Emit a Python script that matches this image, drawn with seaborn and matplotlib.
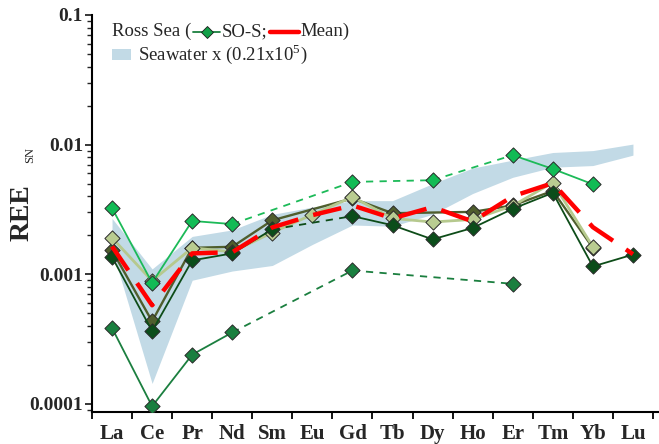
import numpy as np
import matplotlib
matplotlib.use("Agg")
import matplotlib.pyplot as plt
import seaborn as sns
from matplotlib.lines import Line2D
from matplotlib.patches import Rectangle
from matplotlib.offsetbox import TextArea, DrawingArea, HPacker, VPacker, AnchoredOffsetbox
from matplotlib.ticker import FixedLocator, LogLocator, NullFormatter, FixedFormatter

nan = np.nan

# Rare earth elements along the x axis
elements = ["La", "Ce", "Pr", "Nd", "Sm", "Eu", "Gd", "Tb", "Dy", "Ho", "Er", "Tm", "Yb", "Lu"]

# Seawater envelope (x 0.21e5), upper and lower bounds
seawater_upper = [2.7e-3, 1.1e-3, 1.96e-3, 2.2e-3, 2.9e-3, 3.3e-3, 3.7e-3, 3.7e-3,
                  5.0e-3, 6.6e-3, 7.6e-3, 8.7e-3, 9.0e-3, 1.01e-2]
seawater_lower = [1.55e-3, 1.44e-4, 9.0e-4, 1.06e-3, 1.17e-3, 1.7e-3, 2.4e-3, 2.35e-3,
                  2.9e-3, 4.2e-3, 5.6e-3, 6.7e-3, 6.9e-3, 8.3e-3]

# Ross Sea SO-S samples (NaN = not determined)
sample_a = [3.85e-4, 9.6e-5, 2.4e-4, 3.56e-4, nan, nan, 1.07e-3, nan, nan, nan,
            8.45e-4, nan, nan, nan]
sample_b = [1.53e-3, 4.34e-4, 1.6e-3, 1.63e-3, 2.61e-3, nan, 3.85e-3, 2.96e-3, nan,
            3.03e-3, 3.4e-3, 4.4e-3, 1.6e-3, nan]
sample_c = [1.91e-3, 8.9e-4, 1.6e-3, 1.49e-3, 2.1e-3, 2.89e-3, 3.95e-3, 2.7e-3,
            2.53e-3, 2.65e-3, 3.38e-3, 5.1e-3, 1.63e-3, nan]
sample_d = [1.36e-3, 3.65e-4, 1.28e-3, 1.45e-3, 2.22e-3, nan, 2.81e-3, 2.39e-3,
            1.86e-3, 2.28e-3, 3.2e-3, 4.25e-3, 1.15e-3, 1.42e-3]
sample_e = [3.24e-3, 8.6e-4, 2.58e-3, 2.44e-3, nan, nan, 5.16e-3, nan, 5.32e-3, nan,
            8.3e-3, 6.5e-3, 4.95e-3, nan]

# Ross Sea mean
ross_mean = [1.64e-3, 5.77e-4, 1.45e-3, 1.48e-3, 2.3e-3, 2.86e-3, 3.4e-3, 2.7e-3,
             3.3e-3, 2.56e-3, 4.0e-3, 5.05e-3, 2.31e-3, 1.43e-3]

sns.set_style("ticks")
plt.rcParams["font.family"] = ["Liberation Serif", "DejaVu Serif"]
plt.rcParams["mathtext.fontset"] = "stix"

fig = plt.figure(figsize=(6.59, 4.44), dpi=100)
ax = fig.add_axes([92 / 659, 1 - 412 / 444, (659 - 92) / 659, (412 - 15) / 444])

pos = np.arange(len(elements))

ax.fill_between(pos, seawater_lower, seawater_upper, color="#c2dae6", lw=0, zorder=1)


def draw_series(values, line_color, fill_color, lw, bridge, z):
    vals = np.asarray(values, dtype=float)
    idx = np.where(~np.isnan(vals))[0]
    # segments between neighbouring measured elements
    for a, b in zip(idx[:-1], idx[1:]):
        if b - a == 1:
            ls = "-"
        elif bridge == "dashed":
            ls = (0, (4, 3.5))
        else:
            ls = "-"
        sns.lineplot(x=pos[[a, b]], y=vals[[a, b]], color=line_color, lw=lw,
                     linestyle=ls, estimator=None, sort=False, ax=ax, zorder=z)
    sns.scatterplot(x=pos[idx], y=vals[idx], marker="D", s=60, color=fill_color,
                    edgecolor="#2a2a2a", linewidth=0.7, ax=ax, zorder=z + 0.5)


draw_series(sample_a, "#1b7f3f", "#1a7f3f", 1.3, "dashed", 3)
draw_series(sample_b, "#4f5e2d", "#4f5e2d", 1.7, "solid", 4)
draw_series(sample_c, "#b6c98e", "#b9cc91", 2.0, "solid", 5)
draw_series(sample_d, "#0d4c18", "#0b4d1a", 1.3, "dashed", 6)
draw_series(sample_e, "#1cba58", "#12bb55", 1.3, "dashed", 7)

sns.lineplot(x=pos, y=ross_mean, color="#ff0000", lw=3.2, linestyle=(0, (6.5, 3.5)),
             estimator=None, sort=False, ax=ax, zorder=10)

ax.set_yscale("log")
ax.set_ylim(8.67e-5, 0.1)
ax.set_xlim(-0.5, 13.65)

ax.yaxis.set_major_locator(FixedLocator([1e-4, 1e-3, 1e-2, 1e-1]))
ax.yaxis.set_major_formatter(FixedFormatter(["0.0001", "0.001", "0.01", "0.1"]))
ax.yaxis.set_minor_locator(LogLocator(base=10, subs=np.arange(2, 10)))
ax.yaxis.set_minor_formatter(NullFormatter())

ax.xaxis.set_major_locator(FixedLocator(pos))
ax.xaxis.set_major_formatter(FixedFormatter(elements))
ax.xaxis.set_minor_locator(FixedLocator(np.arange(-0.5, 13.6, 1.0)))

ax.tick_params(axis="x", which="major", length=0, pad=8.5, labelsize=15)
ax.tick_params(axis="x", which="minor", length=5, width=1.3, direction="out", color="black")
ax.tick_params(axis="y", which="major", length=5, width=1.3, direction="out", labelsize=14, pad=1.5)
ax.tick_params(axis="y", which="minor", length=3.5, width=1.0, direction="out")
for lab in ax.get_xticklabels() + ax.get_yticklabels():
    lab.set_fontweight("bold")

for side in ["top", "right"]:
    ax.spines[side].set_visible(False)
for side in ["left", "bottom"]:
    ax.spines[side].set_linewidth(1.5)
    ax.spines[side].set_color("black")

ax.set_xlabel("")
ax.set_ylabel("")

# axis title with a small subscript
fig.text(22 / 659, 1 - 213 / 444, "REE", rotation=90, ha="center", va="center",
         fontsize=20, fontweight="bold")
fig.text(30 / 659, 1 - 155 / 444, "SN", rotation=90, ha="center", va="center",
         fontsize=9)

# key
fs = 13.5
key_marker = DrawingArea(19, 10, 0, 0)
key_marker.add_artist(Line2D([0, 19], [5, 5], color="#1b7f3f", lw=1.3))
key_marker.add_artist(Line2D([9.5], [5], marker="D", markersize=6.5, color="#12a048",
                             markeredgecolor="#1a1a1a", markeredgewidth=0.6, lw=0))
key_mean = DrawingArea(21, 10, 0, 0)
key_mean.add_artist(Line2D([0, 21], [5, 5], color="#ff0000", lw=3.2))
key_patch = DrawingArea(14, 10, 0, 0)
key_patch.add_artist(Rectangle((0, 1), 14, 8, color="#c2dae6", lw=0))

tp = dict(fontsize=fs)
row1 = HPacker(children=[TextArea("Ross Sea (", textprops=tp), key_marker,
                         TextArea("SO-S;", textprops=tp), key_mean,
                         TextArea("Mean)", textprops=tp)],
               align="center", pad=0, sep=1.5)
row2 = HPacker(children=[key_patch,
                         TextArea(r"Seawater x (0.21x10$^{\mathregular{5}}$)", textprops=tp)],
               align="center", pad=0, sep=5)
box = VPacker(children=[row1, row2], align="left", pad=0, sep=1.5)
anchored = AnchoredOffsetbox(loc="upper left", child=box, frameon=False, pad=0,
                             borderpad=0, bbox_to_anchor=(112 / 659, 1 - 23 / 444),
                             bbox_transform=fig.transFigure)
ax.add_artist(anchored)

fig.savefig("out.png", dpi=100)
